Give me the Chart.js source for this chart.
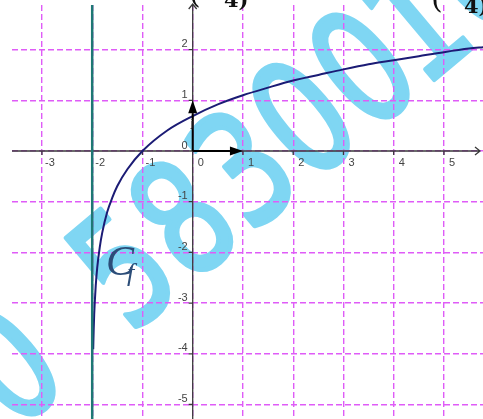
<!DOCTYPE html>
<html>
<head>
<meta charset="utf-8">
<script src="https://cdn.jsdelivr.net/npm/chart.js@4.4.1/dist/chart.umd.min.js"></script>
<style>
  html, body { margin: 0; padding: 0; background: #fff; }
  canvas { display: block; }
</style>
</head>
<body>
<canvas id="plot" width="483" height="419"></canvas>
<script>
// grid / tick values
const xGrid = [-3, -2, -1, 0, 1, 2, 3, 4, 5];
const yGrid = [-5, -4, -3, -2, -1, 0, 1, 2];
const xTickLabels = ['-3', '-2', '-1', '0', '1', '2', '3', '4', '5'];
const yTickLabels = ['-5', '-4', '-3', '-2', '-1', '0', '1', '2'];

// C_f
const curveX = [-1.98, -1.97, -1.96, -1.95, -1.93, -1.9, -1.85, -1.8, -1.7, -1.6, -1.5, -1.3, -1.0,
                -0.5, 0, 0.5, 1, 1.5, 2, 2.5, 3, 3.5, 4, 4.5, 5, 5.5, 5.8];
const curveY = [-3.91, -3.51, -3.22, -3.0, -2.66, -2.3, -1.9, -1.61, -1.2, -0.92, -0.69, -0.36, 0,
                0.41, 0.69, 0.92, 1.1, 1.25, 1.39, 1.5, 1.61, 1.71, 1.79, 1.87, 1.95, 2.02, 2.05];

// vertical asymptote x = -2
const asymX = [-2, -2];
const asymY = [3, -5.5];

// unit vectors from the origin
const vecX = [1, 0];
const vecY = [0, 1];
const vecNames = ['', 'j'];

const gridColor = '#df5cf7';
const axisColor = '#3a3a3a';

const toPts = (xs, ys) => xs.map((x, i) => ({ x: x, y: ys[i] }));

// watermark and background, under the grid
const backdrop = {
    id: 'backdrop',
    beforeDraw(chart) {
        const ctx = chart.ctx;
        ctx.save();
        ctx.fillStyle = '#ffffff';
        ctx.fillRect(0, 0, chart.width, chart.height);
        ctx.fillStyle = '#7fd6f3';
        ctx.strokeStyle = '#7fd6f3';
        ctx.rotate(-40 * Math.PI / 180);
        ctx.scale(0.75, 1);
        ctx.font = '158px "DejaVu Sans"';
        ctx.textBaseline = 'alphabetic';
        ctx.textAlign = 'center';
        ctx.lineWidth = 5;
        ctx.lineJoin = 'round';
        const marks = [['0', -228], ['5', -78], ['8', 0], ['3', 78], ['0', 156], ['0', 234], ['1', 304], ['0', 382]];
        marks.forEach(m => {
            ctx.fillText(m[0], m[1] / 0.75, 340);
            ctx.strokeText(m[0], m[1] / 0.75, 340);
        });
        ctx.restore();
    }
};

// axes, ticks and labels, over the grid but under the curve
const axes = {
    id: 'axes',
    beforeDatasetsDraw(chart) {
        const ctx = chart.ctx;
        const xs = chart.scales.x, ys = chart.scales.y;
        const area = chart.chartArea;
        const x0 = xs.getPixelForValue(0), y0 = ys.getPixelForValue(0);
        ctx.save();
        ctx.strokeStyle = axisColor;
        ctx.lineWidth = 1.3;
        ctx.beginPath();
        ctx.moveTo(area.left, y0);
        ctx.lineTo(area.right - 3, y0);
        ctx.moveTo(x0, area.bottom);
        ctx.lineTo(x0, area.top - 1);
        // arrow tips
        ctx.moveTo(area.right - 8, y0 - 4);
        ctx.lineTo(area.right - 3, y0);
        ctx.lineTo(area.right - 8, y0 + 4);
        ctx.moveTo(x0 - 4, area.top + 4);
        ctx.lineTo(x0, area.top - 1);
        ctx.lineTo(x0 + 4, area.top + 4);
        // little ticks
        xGrid.forEach(v => {
            if (v === 0) return;
            const p = xs.getPixelForValue(v);
            ctx.moveTo(p, y0);
            ctx.lineTo(p, y0 + 4);
        });
        yGrid.forEach(v => {
            if (v === 0) return;
            const p = ys.getPixelForValue(v);
            ctx.moveTo(x0 - 4, p);
            ctx.lineTo(x0, p);
        });
        ctx.stroke();

        ctx.fillStyle = '#444';
        ctx.font = '11px "Liberation Sans"';
        ctx.textBaseline = 'alphabetic';
        ctx.textAlign = 'center';
        xGrid.forEach((v, i) => {
            ctx.fillText(xTickLabels[i], xs.getPixelForValue(v) + 8, y0 + 15);
        });
        ctx.textAlign = 'right';
        yGrid.forEach((v, i) => {
            ctx.fillText(yTickLabels[i], x0 - 5, ys.getPixelForValue(v) - 2.5);
        });
        ctx.restore();
    }
};

// vectors, curve name and the cut text at the top
const overlay = {
    id: 'overlay',
    afterDatasetsDraw(chart) {
        const ctx = chart.ctx;
        const xs = chart.scales.x, ys = chart.scales.y;
        const x0 = xs.getPixelForValue(0), y0 = ys.getPixelForValue(0);
        ctx.save();
        ctx.strokeStyle = '#000';
        ctx.fillStyle = '#000';
        ctx.lineWidth = 2;
        vecX.forEach((vx, i) => {
            const x1 = xs.getPixelForValue(vx), y1 = ys.getPixelForValue(vecY[i]);
            const a = Math.atan2(y1 - y0, x1 - x0);
            const len = 13, half = 4.5;
            const bx = x1 - len * Math.cos(a), by = y1 - len * Math.sin(a);
            ctx.beginPath();
            ctx.moveTo(x0, y0);
            ctx.lineTo(bx, by);
            ctx.stroke();
            ctx.beginPath();
            ctx.moveTo(x1, y1);
            ctx.lineTo(bx + half * Math.sin(a), by - half * Math.cos(a));
            ctx.lineTo(bx - half * Math.sin(a), by + half * Math.cos(a));
            ctx.closePath();
            ctx.fill();
        });
        ctx.fillStyle = '#333';
        ctx.font = '11px "Liberation Sans"';
        ctx.textAlign = 'right';
        ctx.fillText(vecNames[1], x0 + 0.5, ys.getPixelForValue(0.5) + 1);

        // curve name
        ctx.fillStyle = '#2c4d78';
        ctx.textAlign = 'left';
        ctx.font = 'italic 42px "Liberation Serif"';
        ctx.fillText('C', 106, 275);
        ctx.font = 'italic 26px "Liberation Serif"';
        ctx.fillText('f', 127, 281);

        // text cut by the top edge
        ctx.fillStyle = '#111';
        ctx.font = '30px "DejaVu Serif"';
        ctx.fillText('(', 189, 3);
        ctx.fillText('(', 431, 8);
        ctx.font = 'bold 21px "DejaVu Serif"';
        ctx.fillText('4)', 224, 7);
        ctx.fillText('4)', 464, 13);
        ctx.restore();
    }
};

const ctx = document.getElementById('plot').getContext('2d');
const chart = new Chart(ctx, {
    type: 'scatter',
    data: {
        datasets: [
            {
                data: toPts(asymX, asymY),
                showLine: true,
                borderColor: '#1e7874',
                borderWidth: 2.5,
                pointRadius: 0
            },
            {
                data: toPts(curveX, curveY),
                showLine: true,
                borderColor: '#1b1b75',
                borderWidth: 2,
                pointRadius: 0,
                cubicInterpolationMode: 'monotone'
            }
        ]
    },
    options: {
        responsive: false,
        animation: false,
        devicePixelRatio: 1,
        layout: { padding: { left: 12, top: 5, right: 0, bottom: 0 } },
        plugins: {
            legend: { display: false },
            tooltip: { enabled: false }
        },
        scales: {
            x: {
                type: 'linear',
                min: -3.596,
                max: 5.777,
                afterBuildTicks: s => { s.ticks = xGrid.map(v => ({ value: v })); },
                afterFit: s => { s.height = 0; },
                ticks: { display: false },
                grid: { color: gridColor, lineWidth: 1.4, drawTicks: false },
                border: { display: false, dash: [6, 3] }
            },
            y: {
                type: 'linear',
                min: -5.286,
                max: 2.88,
                afterBuildTicks: s => { s.ticks = yGrid.map(v => ({ value: v })); },
                afterFit: s => { s.width = 0; },
                ticks: { display: false },
                grid: { color: gridColor, lineWidth: 1.4, drawTicks: false },
                border: { display: false, dash: [6, 3] }
            }
        }
    },
    plugins: [backdrop, axes, overlay]
});
</script>
</body>
</html>
